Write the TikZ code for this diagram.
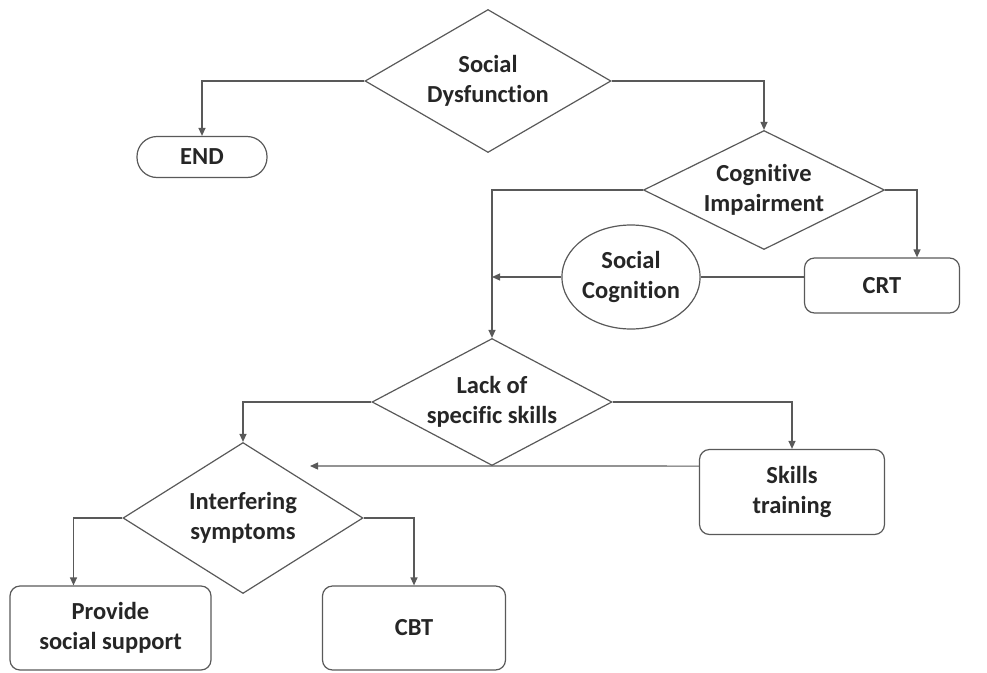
\documentclass[tikz,border=0pt]{standalone}
\usepackage{fontspec}
\setmainfont[Ligatures=NoCommon]{Carlito}
\usetikzlibrary{shapes.geometric,arrows.meta,calc}
\begin{document}
\begin{tikzpicture}[x=1pt,y=-1pt,
 every node/.style={font=\bfseries\fontsize{24.5}{30}\selectfont, text=black!85, align=center},
 dia/.style={diamond, draw=black!65, line width=1.2pt, inner sep=0pt, aspect=2},
 box/.style={rectangle, rounded corners=10pt, draw=black!65, line width=1.2pt, inner sep=0pt},
 conn/.style={draw=black!65, line width=1.2pt},
 arr/.style={conn, -{Triangle[length=8pt,width=7pt]}}
]
\useasboundingbox (0,0) rectangle (987,672);
\node[dia, minimum width=246pt, minimum height=143pt, label={center:Social\\Dysfunction}] (sd) at (488,81) {};
\node[box, rounded corners=20pt, minimum width=130pt, minimum height=41pt] (end) at (202,157) {END};
\node[dia, minimum width=241pt, minimum height=119pt, label={center:Cognitive\\Impairment}] (ci) at (764,190) {};
\node[ellipse, draw=black!65, line width=1.2pt, inner sep=0pt, minimum width=137pt, minimum height=104pt] (sc) at (631,277) {Social\\Cognition};
\node[box, minimum width=155pt, minimum height=55pt] (crt) at (882,285.5) {CRT};
\node[dia, minimum width=240pt, minimum height=127pt, label={center:Lack of\\specific skills}] (lack) at (492,402) {};
\node[box, minimum width=185pt, minimum height=85pt] (skills) at (792,492) {Skills\\training};
\node[dia, minimum width=240pt, minimum height=151pt, label={center:Interfering\\symptoms}] (intf) at (243,518) {};
\node[box, minimum width=201pt, minimum height=84pt] (prov) at (110.5,628) {Provide\\social support};
\node[box, minimum width=183pt, minimum height=84pt] (cbt) at (414,628) {CBT};
\coordinate (fb) at (310,466);
\draw[arr] (sd.west) -| (end.north);
\draw[arr] (sd.east) -| (ci.north);
\draw[arr] (ci.west) -| (lack.north);
\draw[arr] (ci.east) -| ([xshift=35pt]crt.north);
\draw[conn] (crt.west |- sc.east) -- (sc.east);
\draw[arr] (sc.west) -- (sc.west -| lack.north);
\draw[arr] (lack.west) -| (intf.north);
\draw[arr] (lack.east) -| (skills.north);
\draw[arr] (skills.west |- lack.south) -- (fb);
\draw[arr] (intf.west) -| ([xshift=-37pt]prov.north);
\draw[arr] (intf.east) -| (cbt.north);
\end{tikzpicture}
\end{document}
